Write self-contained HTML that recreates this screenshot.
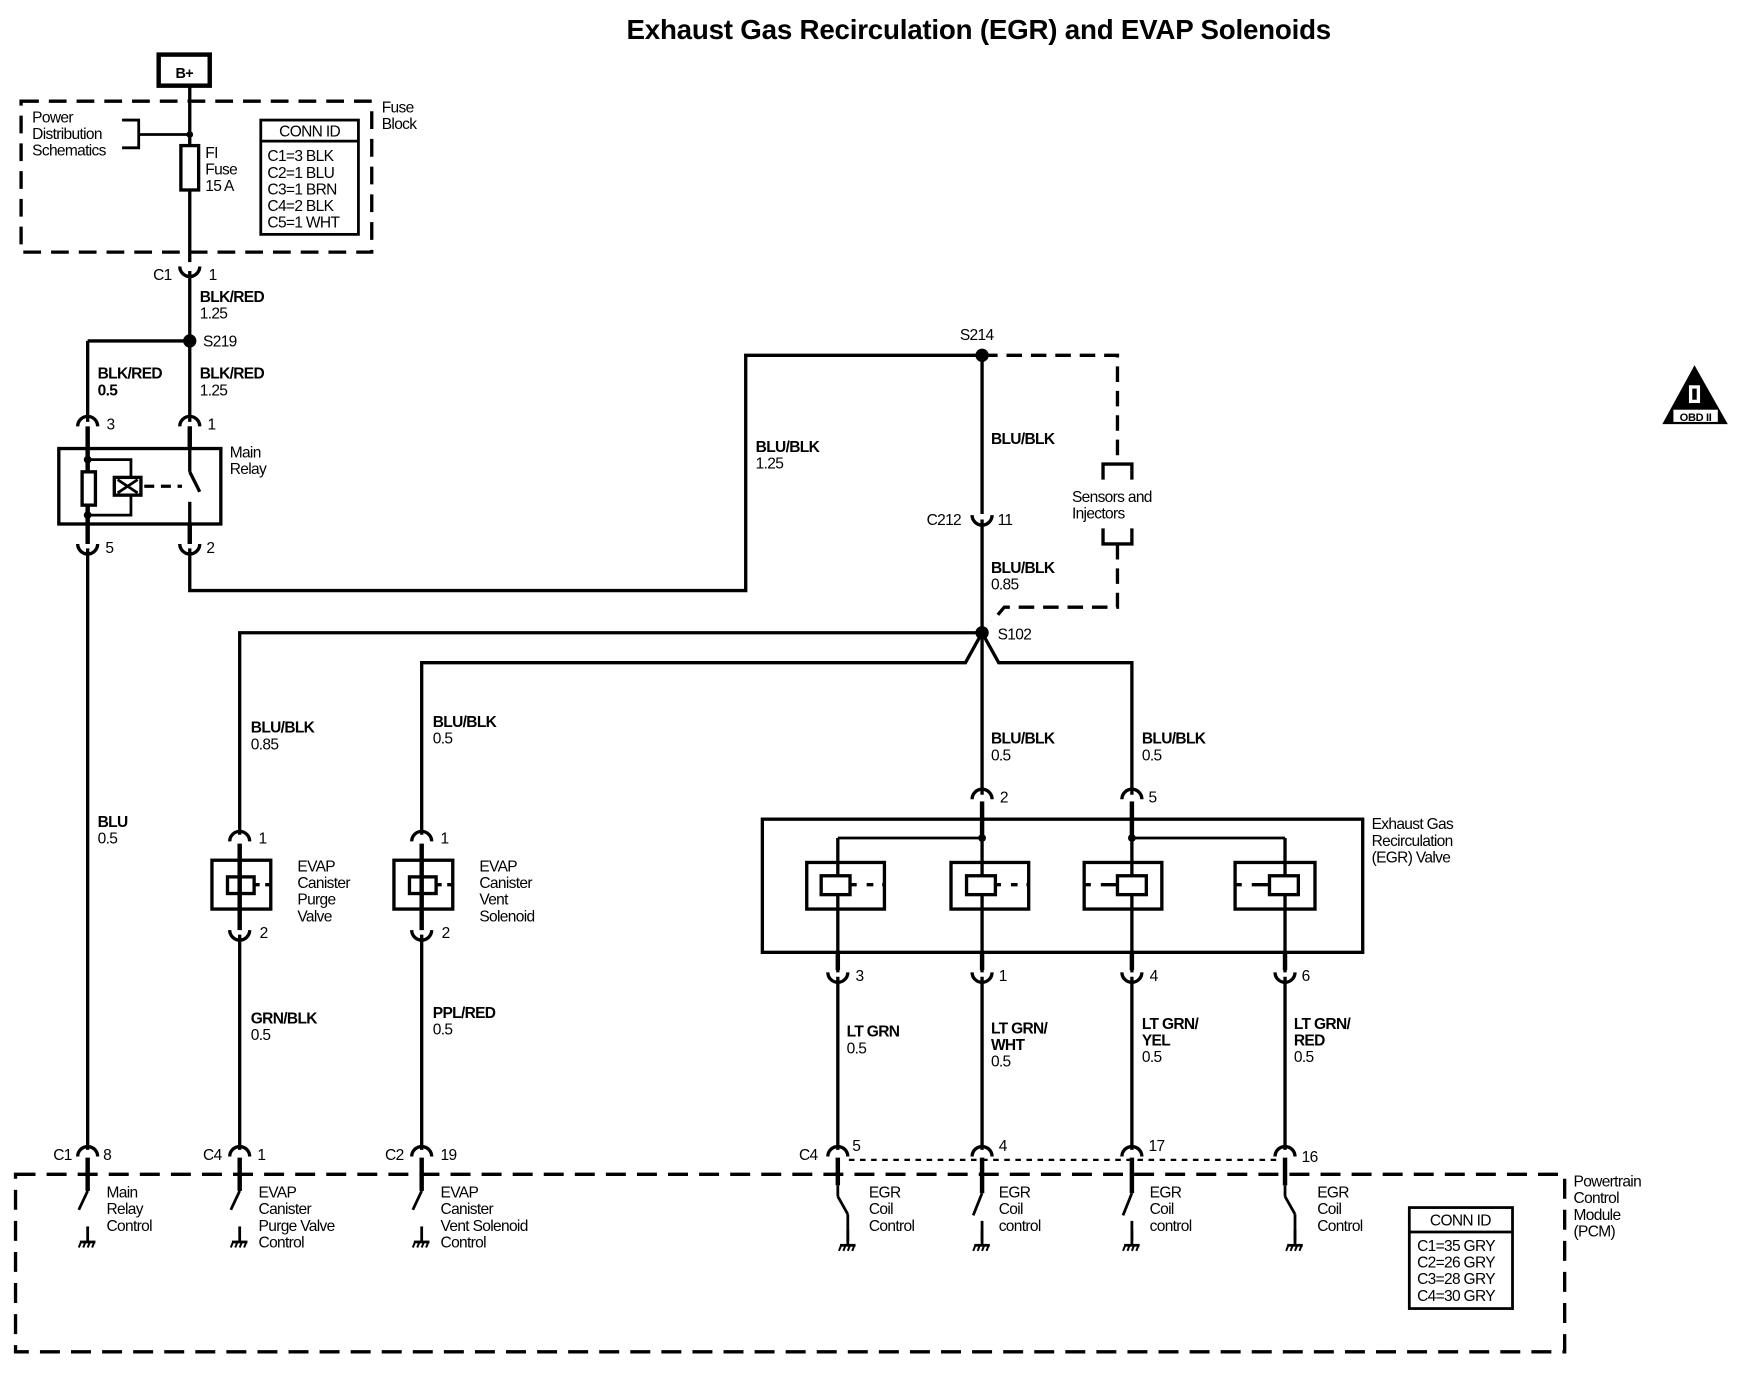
<!DOCTYPE html>
<html><head><meta charset="utf-8">
<style>
html,body{margin:0;padding:0;background:#fff;}
svg{display:block;}
text{font-family:"Liberation Sans",Arial,sans-serif;font-size:14px;fill:#000;letter-spacing:-0.6px;}
.b{font-weight:bold;}
</style></head>
<body>
<svg width="1740" height="1392" viewBox="0 0 1568 1254" xmlns="http://www.w3.org/2000/svg">
<defs>
<g id="cupD"><path d="M-9,-4 A9,9 0 0 0 9,-4" fill="none" stroke="#000" stroke-width="3"/></g>
<g id="capU"><path d="M-9,4 A9,9 0 0 1 9,4" fill="none" stroke="#000" stroke-width="3"/></g>
<g id="gnd"><line x1="0" y1="0" x2="0" y2="14" stroke="#000" stroke-width="2.5"/><line x1="-7" y1="14" x2="7" y2="14" stroke="#000" stroke-width="2.5"/><path d="M-6,14 l-2,5 M-2,14 l-2,5 M2,14 l-2,5 M6,14 l-2,5" stroke="#000" stroke-width="1.8"/></g>
</defs>
<rect width="1568" height="1254" fill="#fff"/>
<text x="882" y="35" text-anchor="middle" class="b" style="font-size:25px;letter-spacing:-0.2px">Exhaust Gas Recirculation (EGR) and EVAP Solenoids</text>

<g stroke="#000" fill="none" stroke-width="3">
<rect x="143" y="49" width="46" height="28" stroke-width="4"/>
<rect x="19" y="91" width="316" height="136" stroke-dasharray="16,9"/>
<path d="M110,108 H125 V133 H110" stroke-width="2.5"/>
<line x1="125" y1="121" x2="171" y2="121" stroke-width="2.5"/>
<line x1="171" y1="78" x2="171" y2="236"/>
<rect x="163" y="131" width="16" height="40" fill="#fff"/>
<rect x="235" y="108" width="88" height="103" stroke-width="2.5"/>
<line x1="235" y1="127" x2="323" y2="127" stroke-width="2.5"/>
<line x1="171" y1="244" x2="171" y2="380"/>
<line x1="79" y1="307" x2="171" y2="307"/>
<line x1="79" y1="307" x2="79" y2="380"/>
<rect x="53" y="404" width="146" height="68"/>
<line x1="79" y1="384" x2="79" y2="490" stroke-width="4"/>
<rect x="74" y="425" width="12" height="30" fill="#fff"/>
<path d="M79,414 H118 V464 H79" stroke-width="2.5"/>
<rect x="103" y="430" width="24" height="16" fill="#fff"/>
<path d="M106,432 L124,444 M124,432 L106,444" stroke-width="2.5"/>
<line x1="130" y1="438" x2="164" y2="438" stroke-dasharray="9,6"/>
<line x1="171" y1="384" x2="171" y2="425"/>
<line x1="171" y1="425" x2="180" y2="443"/>
<line x1="171" y1="452" x2="171" y2="490"/>
<line x1="171" y1="384" x2="171" y2="405" stroke-width="4"/>
<line x1="171" y1="471" x2="171" y2="490" stroke-width="4"/>
<path d="M171,494 V532 H672 V320 H885"/>
<line x1="79" y1="494" x2="79" y2="1036"/>
<path d="M885,320 H1007 V418" stroke-dasharray="14,8"/>
<path d="M994,432 V418 H1020 V432"/>
<path d="M994,476 V490 H1020 V476"/>
<path d="M1007,490 V547 H905 L894,560" stroke-dasharray="14,8"/>
<line x1="885" y1="320" x2="885" y2="463"/>
<line x1="885" y1="468" x2="885" y2="716"/>
<path d="M885,570 H216 V752"/>
<path d="M885,570 L870,597 H380 V752"/>
<path d="M885,570 L900,597 H1020 V716"/>
<rect x="191" y="775" width="53" height="44" fill="#fff"/>
<rect x="205" y="790" width="24" height="15" fill="#fff"/>
<line x1="216" y1="760" x2="216" y2="838" stroke-width="4"/>
<path d="M229,797 H234 M239,797 H244"/>
<line x1="216" y1="842" x2="216" y2="1036"/>
<rect x="355" y="775" width="53" height="44" fill="#fff"/>
<rect x="369" y="790" width="24" height="15" fill="#fff"/>
<line x1="380" y1="760" x2="380" y2="838" stroke-width="4"/>
<path d="M393,797 H398 M403,797 H408"/>
<line x1="380" y1="842" x2="380" y2="1036"/>
<rect x="687" y="738" width="541" height="120"/>
<line x1="885" y1="722" x2="885" y2="755" stroke-width="4"/>
<line x1="1020" y1="722" x2="1020" y2="755" stroke-width="4"/>
<path d="M755,755 H885 M1020,755 H1158" stroke-width="2.5"/>
<line x1="755" y1="755" x2="755" y2="876"/>
<line x1="885" y1="755" x2="885" y2="876"/>
<line x1="1020" y1="755" x2="1020" y2="876"/>
<line x1="1158" y1="755" x2="1158" y2="876"/>
<rect x="727" y="777" width="70" height="42"/>
<rect x="857" y="777" width="70" height="42"/>
<rect x="977" y="777" width="70" height="42"/>
<rect x="1113" y="777" width="72" height="42"/>
<rect x="740" y="789" width="26" height="17" fill="#fff"/>
<rect x="871" y="789" width="26" height="17" fill="#fff"/>
<rect x="1007" y="789" width="26" height="17" fill="#fff"/>
<rect x="1144" y="789" width="26" height="17" fill="#fff"/>
<path d="M766,797 H772 M781,797 H797 M897,797 H902 M911,797 H927" stroke-dasharray="6,8"/>
<path d="M977,797 H983 M992,797 H1007 M1113,797 H1119 M1128,797 H1144"/>
<line x1="755" y1="858" x2="755" y2="874" stroke-width="4"/>
<line x1="885" y1="858" x2="885" y2="874" stroke-width="4"/>
<line x1="1020" y1="858" x2="1020" y2="874" stroke-width="4"/>
<line x1="1158" y1="858" x2="1158" y2="874" stroke-width="4"/>
<line x1="755" y1="880" x2="755" y2="1036"/>
<line x1="885" y1="880" x2="885" y2="1036"/>
<line x1="1020" y1="880" x2="1020" y2="1036"/>
<line x1="1158" y1="880" x2="1158" y2="1036"/>
<line x1="765" y1="1045" x2="1150" y2="1045" stroke-width="2" stroke-dasharray="5,5"/>
<rect x="14" y="1058" width="1396" height="160" stroke-dasharray="18,10"/>
<rect x="1270" y="1088" width="93" height="91" stroke-width="2.5"/>
<line x1="1270" y1="1110" x2="1363" y2="1110" stroke-width="2.5"/>
</g>
<g stroke="#000" fill="none" stroke-width="2.5">
<g transform="translate(79,0)"><line x1="0" y1="1043" x2="0" y2="1073" stroke-width="4"/><line x1="0" y1="1073" x2="-8" y2="1090"/></g>
<g transform="translate(216,0)"><line x1="0" y1="1043" x2="0" y2="1073" stroke-width="4"/><line x1="0" y1="1073" x2="-8" y2="1090"/></g>
<g transform="translate(380,0)"><line x1="0" y1="1043" x2="0" y2="1073" stroke-width="4"/><line x1="0" y1="1073" x2="-8" y2="1090"/></g>
<g transform="translate(755,0)"><line x1="0" y1="1043" x2="0" y2="1068" stroke-width="4"/><line x1="0" y1="1068" x2="0" y2="1078"/><line x1="0" y1="1078" x2="9" y2="1094"/><line x1="9" y1="1094" x2="9" y2="1118"/></g>
<g transform="translate(885,0)"><line x1="0" y1="1043" x2="0" y2="1075" stroke-width="4"/><line x1="0" y1="1075" x2="-8" y2="1095"/><line x1="0" y1="1100" x2="0" y2="1118"/></g>
<g transform="translate(1020,0)"><line x1="0" y1="1043" x2="0" y2="1075" stroke-width="4"/><line x1="0" y1="1075" x2="-8" y2="1095"/><line x1="0" y1="1100" x2="0" y2="1118"/></g>
<g transform="translate(1158,0)"><line x1="0" y1="1043" x2="0" y2="1068" stroke-width="4"/><line x1="0" y1="1068" x2="0" y2="1078"/><line x1="0" y1="1078" x2="9" y2="1094"/><line x1="9" y1="1094" x2="9" y2="1118"/></g>
</g>
<use href="#gnd" x="79" y="1105"/><use href="#gnd" x="216" y="1105"/><use href="#gnd" x="380" y="1105"/>
<use href="#gnd" x="764" y="1108"/><use href="#gnd" x="885" y="1108"/><use href="#gnd" x="1020" y="1108"/><use href="#gnd" x="1167" y="1108"/>
<use href="#cupD" x="171" y="244"/>
<use href="#capU" x="79" y="380"/><use href="#capU" x="171" y="380"/>
<use href="#cupD" x="79" y="494"/><use href="#cupD" x="171" y="494"/>
<use href="#cupD" x="885" y="468"/>
<use href="#capU" x="216" y="754"/><use href="#capU" x="380" y="754"/>
<use href="#cupD" x="216" y="842"/><use href="#cupD" x="380" y="842"/>
<use href="#capU" x="885" y="716"/><use href="#capU" x="1020" y="716"/>
<use href="#cupD" x="755" y="880"/><use href="#cupD" x="885" y="880"/><use href="#cupD" x="1020" y="880"/><use href="#cupD" x="1158" y="880"/>
<use href="#capU" x="79" y="1038"/><use href="#capU" x="216" y="1038"/><use href="#capU" x="380" y="1038"/>
<use href="#capU" x="755" y="1038"/><use href="#capU" x="885" y="1038"/><use href="#capU" x="1020" y="1038"/><use href="#capU" x="1158" y="1038"/>
<circle cx="171" cy="121" r="3"/>
<circle cx="171" cy="307" r="6"/>
<circle cx="885" cy="320" r="6"/>
<circle cx="885" cy="570" r="6"/>
<circle cx="79" cy="414" r="3.5"/><circle cx="79" cy="464" r="3.5"/>
<circle cx="885" cy="755" r="3.5"/><circle cx="1020" cy="755" r="3.5"/>
<polygon points="1527,329 1557,382 1498,382" fill="#000"/>
<rect x="1522" y="347" width="10" height="16" fill="#fff"/><rect x="1525" y="350" width="4" height="10" fill="#000"/>
<rect x="1508" y="369" width="40" height="11" fill="#fff"/>
<text x="1528" y="379" text-anchor="middle" class="b" style="font-size:10px;letter-spacing:-0.3px">OBD II</text>

<text x="166" y="70" text-anchor="middle" class="b" style="font-size:13px">B+</text>
<text x="29" y="110">Power</text><text x="29" y="125">Distribution</text><text x="29" y="140">Schematics</text>
<text x="185" y="142">FI</text><text x="185" y="157">Fuse</text><text x="185" y="172">15 A</text>
<text x="344" y="101">Fuse</text><text x="344" y="116">Block</text>
<text x="279" y="123" text-anchor="middle">CONN ID</text>
<text x="241" y="145">C1=3 BLK</text><text x="241" y="160">C2=1 BLU</text><text x="241" y="175">C3=1 BRN</text><text x="241" y="190">C4=2 BLK</text><text x="241" y="205">C5=1 WHT</text>
<text x="138" y="252">C1</text><text x="188" y="252">1</text>
<text x="180" y="272" class="b">BLK/RED</text><text x="180" y="287">1.25</text>
<text x="183" y="312">S219</text>
<text x="88" y="341" class="b">BLK/RED</text><text x="88" y="356" class="b">0.5</text>
<text x="180" y="341" class="b">BLK/RED</text><text x="180" y="356">1.25</text>
<text x="96" y="387">3</text><text x="187" y="387">1</text>
<text x="207" y="412">Main</text><text x="207" y="427">Relay</text>
<text x="95" y="498">5</text><text x="186" y="498">2</text>
<text x="865" y="306">S214</text>
<text x="681" y="407" class="b">BLU/BLK</text><text x="681" y="422">1.25</text>
<text x="893" y="400" class="b">BLU/BLK</text>
<text x="966" y="452">Sensors and</text><text x="966" y="467">Injectors</text>
<text x="835" y="473">C212</text><text x="899" y="473">11</text>
<text x="893" y="516" class="b">BLU/BLK</text><text x="893" y="531">0.85</text>
<text x="899" y="576">S102</text>
<text x="226" y="660" class="b">BLU/BLK</text><text x="226" y="675">0.85</text>
<text x="390" y="655" class="b">BLU/BLK</text><text x="390" y="670">0.5</text>
<text x="893" y="670" class="b">BLU/BLK</text><text x="893" y="685">0.5</text>
<text x="1029" y="670" class="b">BLU/BLK</text><text x="1029" y="685">0.5</text>
<text x="88" y="745" class="b">BLU</text><text x="88" y="760">0.5</text>
<text x="233" y="760">1</text><text x="397" y="760">1</text>
<text x="901" y="723">2</text><text x="1035" y="723">5</text>
<text x="268" y="785">EVAP</text><text x="268" y="800">Canister</text><text x="268" y="815">Purge</text><text x="268" y="830">Valve</text>
<text x="432" y="785">EVAP</text><text x="432" y="800">Canister</text><text x="432" y="815">Vent</text><text x="432" y="830">Solenoid</text>
<text x="1236" y="747">Exhaust Gas</text><text x="1236" y="762">Recirculation</text><text x="1236" y="777">(EGR) Valve</text>
<text x="234" y="845">2</text><text x="398" y="845">2</text>
<text x="771" y="884">3</text><text x="900" y="884">1</text><text x="1036" y="884">4</text><text x="1173" y="884">6</text>
<text x="226" y="922" class="b">GRN/BLK</text><text x="226" y="937">0.5</text>
<text x="390" y="917" class="b">PPL/RED</text><text x="390" y="932">0.5</text>
<text x="763" y="934" class="b">LT GRN</text><text x="763" y="949">0.5</text>
<text x="893" y="931" class="b">LT GRN/</text><text x="893" y="946" class="b">WHT</text><text x="893" y="961">0.5</text>
<text x="1029" y="927" class="b">LT GRN/</text><text x="1029" y="942" class="b">YEL</text><text x="1029" y="957">0.5</text>
<text x="1166" y="927" class="b">LT GRN/</text><text x="1166" y="942" class="b">RED</text><text x="1166" y="957">0.5</text>
<text x="48" y="1045">C1</text><text x="93" y="1045">8</text>
<text x="183" y="1045">C4</text><text x="232" y="1045">1</text>
<text x="347" y="1045">C2</text><text x="397" y="1045">19</text>
<text x="720" y="1045">C4</text><text x="768" y="1037">5</text>
<text x="900" y="1037">4</text><text x="1035" y="1037">17</text><text x="1173" y="1047">16</text>
<text x="1418" y="1069">Powertrain</text><text x="1418" y="1084">Control</text><text x="1418" y="1099">Module</text><text x="1418" y="1114">(PCM)</text>
<text x="96" y="1079">Main</text><text x="96" y="1094">Relay</text><text x="96" y="1109">Control</text>
<text x="233" y="1079">EVAP</text><text x="233" y="1094">Canister</text><text x="233" y="1109">Purge Valve</text><text x="233" y="1124">Control</text>
<text x="397" y="1079">EVAP</text><text x="397" y="1094">Canister</text><text x="397" y="1109">Vent Solenoid</text><text x="397" y="1124">Control</text>
<text x="783" y="1079">EGR</text><text x="783" y="1094">Coil</text><text x="783" y="1109">Control</text>
<text x="900" y="1079">EGR</text><text x="900" y="1094">Coil</text><text x="900" y="1109">control</text>
<text x="1036" y="1079">EGR</text><text x="1036" y="1094">Coil</text><text x="1036" y="1109">control</text>
<text x="1187" y="1079">EGR</text><text x="1187" y="1094">Coil</text><text x="1187" y="1109">Control</text>
<text x="1316" y="1104" text-anchor="middle">CONN ID</text>
<text x="1277" y="1127">C1=35 GRY</text><text x="1277" y="1142">C2=26 GRY</text><text x="1277" y="1157">C3=28 GRY</text><text x="1277" y="1172">C4=30 GRY</text>
</svg>
</body></html>
